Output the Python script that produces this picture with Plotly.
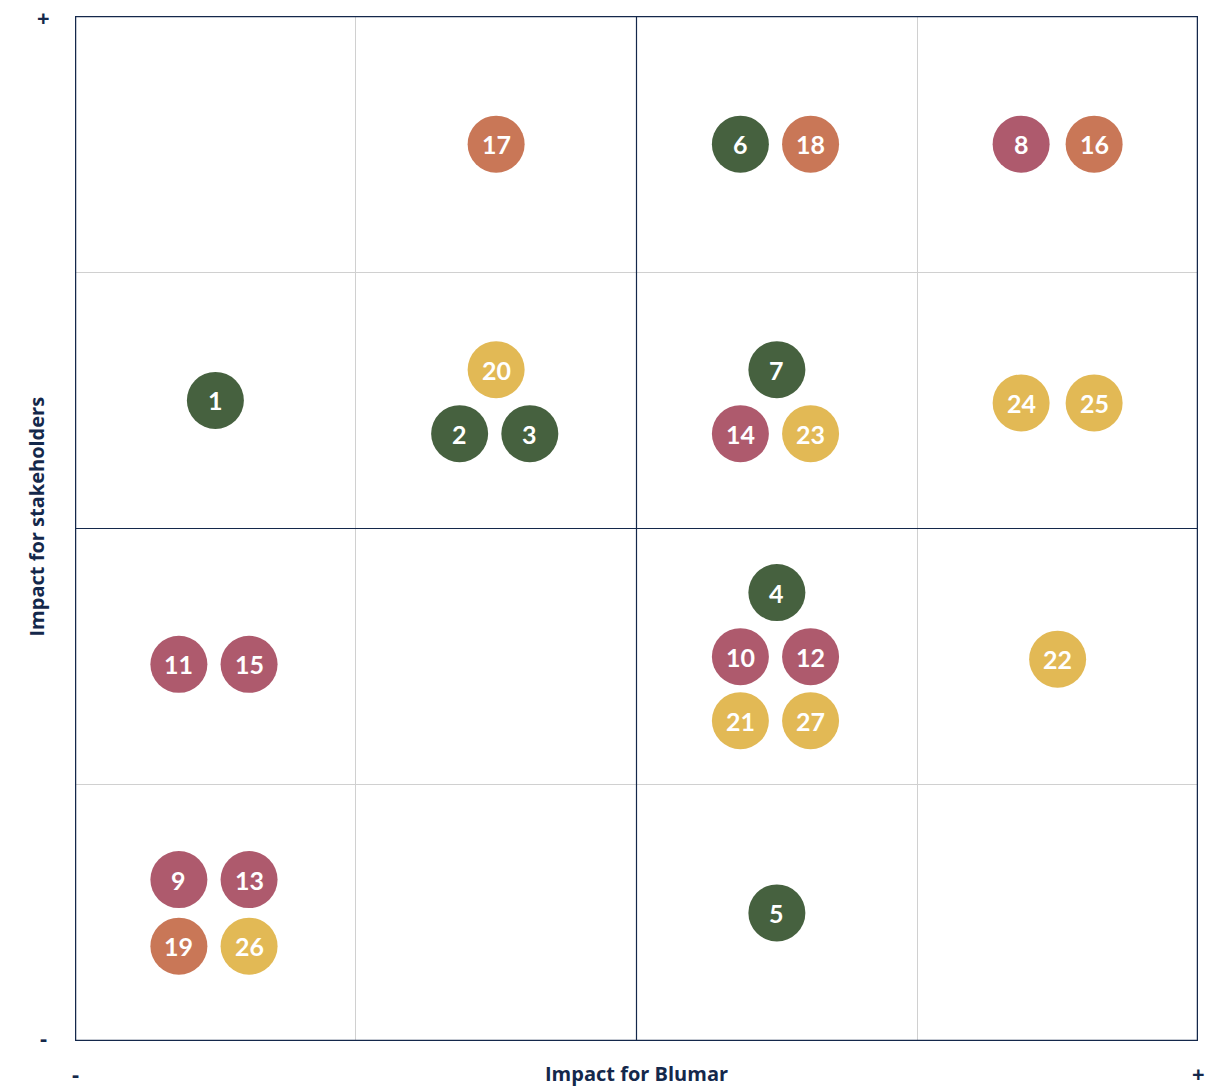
import plotly.graph_objects as go

# Data
ids = [1, 2, 3, 4, 5, 6, 7,
       8, 9, 10, 11, 12, 13, 14, 15,
       16, 17, 18, 19,
       20, 21, 22, 23, 24, 25, 26, 27]
impact_blumar = [0.50, 1.37, 1.62, 2.50, 2.50, 2.37, 2.50,
                 3.37, 0.37, 2.37, 0.37, 2.62, 0.62, 2.37, 0.62,
                 3.63, 1.50, 2.62, 0.37,
                 1.50, 2.37, 3.50, 2.62, 3.37, 3.63, 0.62, 2.62]
impact_stakeholders = [2.50, 2.37, 2.37, 1.75, 0.50, 3.50, 2.62,
                       3.50, 0.63, 1.50, 1.47, 1.50, 0.63, 2.37, 1.47,
                       3.50, 3.50, 3.50, 0.37,
                       2.62, 1.25, 1.49, 2.37, 2.49, 2.49, 0.37, 1.25]
groups = ["G", "G", "G", "G", "G", "G", "G",
          "P", "P", "P", "P", "P", "P", "P", "P",
          "O", "O", "O", "O",
          "Y", "Y", "Y", "Y", "Y", "Y", "Y", "Y"]
group_colors = {"G": "#46613F", "P": "#AE5A6D", "O": "#C97757", "Y": "#E2B955"}

NAVY = "#14284B"
FONT = "Lato"
TFONT = "Open Sans"

fig = go.Figure()
for g in ["G", "P", "O", "Y"]:
    idx = [i for i, gg in enumerate(groups) if gg == g]
    fig.add_trace(go.Scatter(
        x=[impact_blumar[i] for i in idx],
        y=[impact_stakeholders[i] for i in idx],
        mode="markers",
        marker=dict(size=57, color=group_colors[g], line=dict(width=0)),
        hoverinfo="skip",
        showlegend=False,
        cliponaxis=False,
    ))

# Labels inside the bubbles
label_annos = [
    dict(x=xv, y=yv, xref="x", yref="y", text=str(i), showarrow=False,
         xanchor="center", yanchor="middle", yshift=0,
         font=dict(family=FONT, size=25, color="white", weight="bold"))
    for i, xv, yv in zip(ids, impact_blumar, impact_stakeholders)
]

# Border and center lines
fig.add_shape(type="line", xref="x", yref="y", x0=2, x1=2, y0=0, y1=4,
              line=dict(color=NAVY, width=1.2), layer="above")
fig.add_shape(type="line", xref="x", yref="y", x0=0, x1=4, y0=2, y1=2,
              line=dict(color=NAVY, width=1.2), layer="above")
fig.add_shape(type="rect", xref="x", yref="y", x0=0, x1=4, y0=0, y1=4,
              line=dict(color=NAVY, width=2.5), layer="above")

sym_font = dict(family=TFONT, size=22, color=NAVY, weight="bold")
title_font = dict(family=TFONT, size=20, color=NAVY, weight="bold")

fig.update_layout(
    width=1221, height=1089,
    margin=dict(l=75, r=23, t=16, b=48),
    paper_bgcolor="white", plot_bgcolor="white",
    xaxis=dict(range=[0, 4], tick0=0, dtick=1, showgrid=True, gridcolor="#D0D0D0",
               gridwidth=1, zeroline=False, showticklabels=False, showline=False,
               fixedrange=True),
    yaxis=dict(range=[0, 4], tick0=0, dtick=1, showgrid=True, gridcolor="#D0D0D0",
               gridwidth=1, zeroline=False, showticklabels=False, showline=False,
               fixedrange=True),
    annotations=label_annos + [
        dict(xref="paper", yref="paper", x=0.5, y=0, yshift=-32, text="Impact for Blumar",
             showarrow=False, xanchor="center", yanchor="middle", font=title_font),
        dict(xref="paper", yref="paper", x=0, xshift=-39, y=0.5, yshift=12,
             text="Impact for stakeholders",
             showarrow=False, textangle=-90, xanchor="center", yanchor="middle",
             font=title_font),
        dict(xref="paper", yref="paper", x=0, xshift=-32, y=1, yshift=-1, text="+",
             showarrow=False, xanchor="center", yanchor="middle", font=sym_font),
        dict(xref="paper", yref="paper", x=0, xshift=-32, y=0, yshift=4, text="-",
             showarrow=False, xanchor="center", yanchor="middle", font=sym_font),
        dict(xref="paper", yref="paper", x=0, y=0, yshift=-32, text="-",
             showarrow=False, xanchor="center", yanchor="middle", font=sym_font),
        dict(xref="paper", yref="paper", x=1, y=0, yshift=-32, text="+",
             showarrow=False, xanchor="center", yanchor="middle", font=sym_font),
    ],
)

fig.write_html("out.html", config={"displayModeBar": False},
               post_script="document.body.style.margin='0';")
